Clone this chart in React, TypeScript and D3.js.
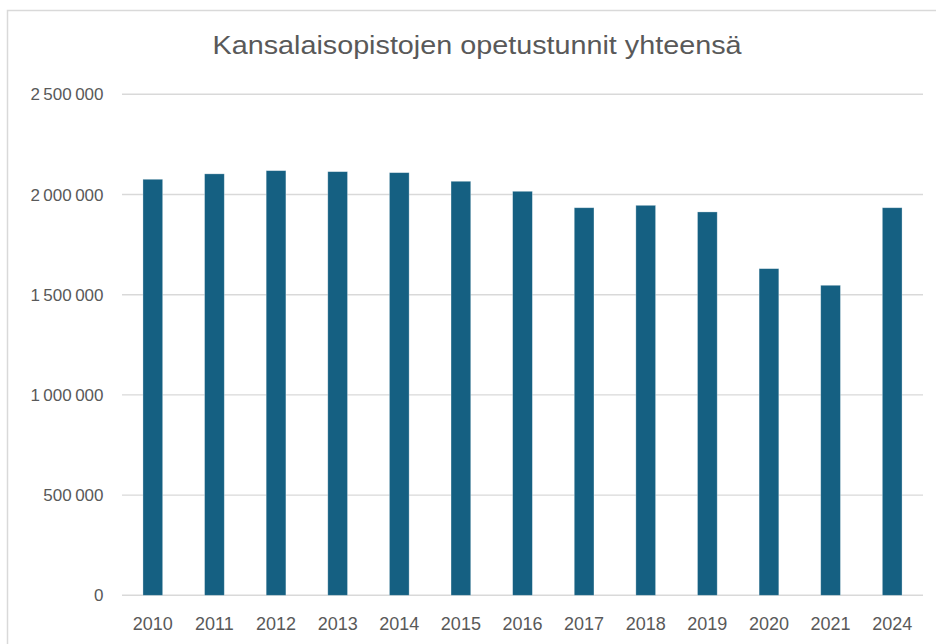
import React from "react";
import * as d3 from "d3";

const years = ["2010", "2011", "2012", "2013", "2014", "2015", "2016", "2017", "2018", "2019", "2020", "2021", "2024"];
const hours = [2076000, 2103000, 2119000, 2114000, 2109000, 2066000, 2016000, 1934000, 1946000, 1913000, 1630000, 1547000, 1934000];
const yTicks = [0, 500000, 1000000, 1500000, 2000000, 2500000];
const title = "Kansalaisopistojen opetustunnit yhteensä";

const W = 936;
const H = 644;
const plotLeft = 122;
const plotRight = 923;
const plotTop = 94.3;
const plotBottom = 595.3;

const fmt = (v: number) => d3.format(",")(v).replace(/,/g, "\u2009");

export default function App() {
  const x = d3.scaleBand<string>().domain(years).range([plotLeft, plotRight]).paddingInner(0.68).paddingOuter(0.34);
  const y = d3.scaleLinear().domain([0, 2500000]).range([plotBottom, plotTop]);
  const font = "'Liberation Sans', Arial, sans-serif";
  return (
    <svg width={W} height={H} style={{ position: "absolute", left: 0, top: 0, background: "#fff" }}>
      <rect x={7.5} y={10.5} width={W + 10} height={H + 10} fill="#fff" stroke="#d9d9d9" strokeWidth={1.5} />
      <text
        x={477}
        y={53.5}
        textAnchor="middle"
        fontFamily="'Liberation Sans Narrow', 'Arial Narrow', 'Liberation Sans', sans-serif"
        fontSize={25}
        fill="#595959"
        textLength={529}
        lengthAdjust="spacingAndGlyphs"
      >
        {title}
      </text>
      {yTicks.map((t) => (
        <g key={t}>
          <line x1={plotLeft} x2={plotRight} y1={y(t)} y2={y(t)} stroke="#d9d9d9" strokeWidth={1.4} />
          <text x={103.5} y={y(t)} dy="0.36em" textAnchor="end" fontFamily={font} fontSize={17} fill="#595959">
            {fmt(t)}
          </text>
        </g>
      ))}
      {years.map((yr, i) => (
        <rect
          key={yr}
          x={x(yr)}
          y={y(hours[i])}
          width={x.bandwidth()}
          height={plotBottom - y(hours[i])}
          fill="#156082"
          stroke="#ffffff"
          strokeOpacity={0.4}
          strokeWidth={0.75}
        />
      ))}
      {years.map((yr) => (
        <text
          key={yr}
          x={(x(yr) as number) + x.bandwidth() / 2}
          y={630}
          textAnchor="middle"
          fontFamily={font}
          fontSize={18}
          fill="#595959"
        >
          {yr}
        </text>
      ))}
    </svg>
  );
}
